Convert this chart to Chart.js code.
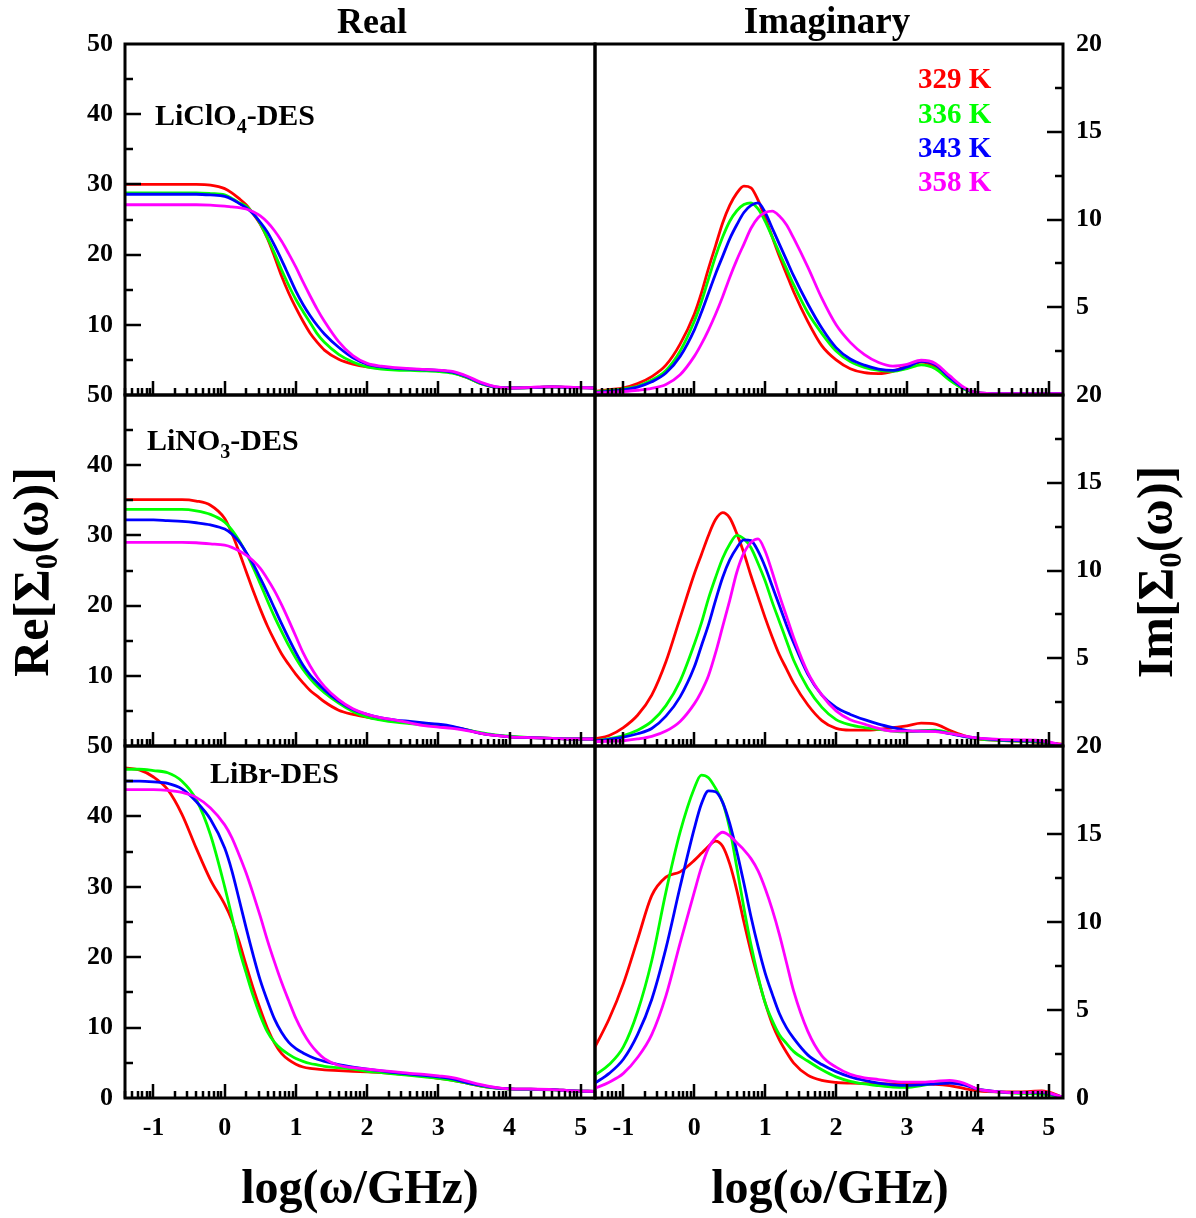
<!DOCTYPE html>
<html>
<head>
<meta charset="utf-8">
<title>Re and Im of Σ0(ω)</title>
<script src="https://cdn.jsdelivr.net/npm/chart.js@4.4.1/dist/chart.umd.min.js"></script>
<style>
  html, body { margin: 0; padding: 0; background: #fff; }
  #fig { position: relative; width: 1196px; height: 1218px; overflow: hidden; background: #fff; }
  #fig canvas { position: absolute; }
  #labels { position: absolute; left: 0; top: 0; pointer-events: none; }
  #labels text { font-family: "Liberation Serif", "Times New Roman", serif; font-weight: bold; fill: #000; }
</style>
</head>
<body>
<div id="fig">
  <canvas id="reLiClO4"></canvas>
  <canvas id="imLiClO4"></canvas>
  <canvas id="reLiNO3"></canvas>
  <canvas id="imLiNO3"></canvas>
  <canvas id="reLiBr"></canvas>
  <canvas id="imLiBr"></canvas>

  <svg id="labels" width="1196" height="1218" xmlns="http://www.w3.org/2000/svg">
    <text x="372" y="33" text-anchor="middle" font-size="36">Real</text>
    <text x="827" y="33" text-anchor="middle" font-size="37">Imaginary</text>

    <text transform="translate(48,572) rotate(-90)" text-anchor="middle" font-size="50">Re[Σ<tspan font-size="31" dy="9">0</tspan><tspan dy="-9">(ω)]</tspan></text>
    <text transform="translate(1172,572) rotate(-90)" text-anchor="middle" font-size="50">Im[Σ<tspan font-size="31" dy="9">0</tspan><tspan dy="-9">(ω)]</tspan></text>

    <text x="360" y="1203" text-anchor="middle" font-size="48">log(ω/GHz)</text>
    <text x="830" y="1203" text-anchor="middle" font-size="48">log(ω/GHz)</text>

    <text x="155" y="125" font-size="30">LiClO<tspan font-size="20" dy="8">4</tspan><tspan dy="-8">-DES</tspan></text>
    <text x="147" y="450" font-size="30">LiNO<tspan font-size="20" dy="8">3</tspan><tspan dy="-8">-DES</tspan></text>
    <text x="210" y="783" font-size="30">LiBr-DES</text>

    <text x="918" y="88" font-size="29" style="fill:#ff0000">329 K</text>
    <text x="918" y="123" font-size="29" style="fill:#00ff00">336 K</text>
    <text x="918" y="157" font-size="29" style="fill:#0000ff">343 K</text>
    <text x="918" y="191" font-size="29" style="fill:#ff00ff">358 K</text>
  </svg>
</div>

<script>
// log10(ω/GHz) sampling shared by every curve
const logW = [-1.4, -1.2, -1.0, -0.8, -0.6, -0.4, -0.2,
  0, 0.1, 0.2, 0.3, 0.4, 0.5, 0.6, 0.7, 0.8, 0.9, 1.0, 1.1, 1.2, 1.3, 1.4,
  1.6, 1.8, 2.0, 2.2, 2.4, 2.6, 2.8, 3.0, 3.2, 3.4, 3.6, 3.8, 4.0,
  4.3, 4.6, 4.9, 5.2];

const temps = ['329 K', '336 K', '343 K', '358 K'];

// one row per temperature, same order as temps
const reLiClO4 = [
  [30.0, 30.0, 30.0, 30.0, 30.0, 30.0, 29.9, 29.4, 28.8, 28.0, 27.1, 25.8, 24.3, 22.3, 19.7, 16.9, 14.5, 12.4, 10.5, 8.8, 7.5, 6.4, 5.1, 4.4, 4.0, 3.8, 3.7, 3.65, 3.6, 3.5, 3.2, 2.5, 1.6, 1.1, 1.0, 1.05, 1.15, 1.05, 1.0],
  [28.8, 28.8, 28.8, 28.8, 28.8, 28.8, 28.7, 28.5, 28.0, 27.4, 26.9, 25.9, 24.4, 22.4, 20.2, 17.8, 15.6, 13.6, 11.9, 10.3, 8.7, 7.5, 5.8, 4.7, 4.0, 3.7, 3.55, 3.5, 3.45, 3.35, 3.1, 2.5, 1.6, 1.1, 1.0, 1.05, 1.15, 1.05, 1.0],
  [28.6, 28.6, 28.6, 28.6, 28.6, 28.6, 28.5, 28.3, 27.9, 27.3, 26.7, 25.8, 24.6, 23.2, 21.3, 19.2, 17.0, 14.8, 12.9, 11.3, 9.9, 8.7, 6.8, 5.3, 4.4, 4.0, 3.8, 3.7, 3.6, 3.5, 3.25, 2.6, 1.7, 1.15, 1.0, 1.05, 1.15, 1.05, 1.0],
  [27.1, 27.1, 27.1, 27.1, 27.1, 27.1, 27.05, 26.9, 26.8, 26.7, 26.5, 26.1, 25.5, 24.6, 23.4, 21.9, 20.1, 18.2, 16.1, 14.1, 12.2, 10.5, 7.6, 5.6, 4.5, 4.1, 3.9, 3.75, 3.65, 3.55, 3.35, 2.7, 1.8, 1.2, 1.0, 1.1, 1.2, 1.1, 1.0]
];

const imLiClO4 = [
  [0.2, 0.3, 0.4, 0.65, 1.05, 1.7, 2.9, 4.6, 5.8, 7.2, 8.5, 9.8, 10.8, 11.5, 11.9, 11.8, 11.1, 10.1, 9.0, 7.9, 6.9, 5.9, 4.2, 2.8, 2.0, 1.5, 1.27, 1.22, 1.35, 1.65, 1.88, 1.6, 0.9, 0.35, 0.12, 0.08, 0.08, 0.08, 0.08],
  [0.18, 0.25, 0.35, 0.5, 0.85, 1.4, 2.5, 4.2, 5.3, 6.6, 7.9, 9.0, 9.9, 10.5, 10.85, 10.95, 10.6, 9.9, 9.0, 8.1, 7.2, 6.3, 4.7, 3.5, 2.5, 1.9, 1.57, 1.4, 1.35, 1.5, 1.72, 1.5, 0.85, 0.35, 0.1, 0.08, 0.08, 0.08, 0.08],
  [0.15, 0.2, 0.3, 0.45, 0.75, 1.25, 2.2, 3.7, 4.7, 5.8, 6.9, 7.9, 8.9, 9.7, 10.4, 10.8, 10.95, 10.4, 9.5, 8.6, 7.7, 6.8, 5.2, 3.8, 2.7, 2.05, 1.7, 1.48, 1.4, 1.6, 1.92, 1.72, 1.0, 0.4, 0.12, 0.08, 0.08, 0.08, 0.08],
  [0.12, 0.15, 0.2, 0.27, 0.38, 0.6, 1.15, 2.2, 2.9, 3.7, 4.6, 5.6, 6.7, 7.7, 8.6, 9.5, 10.1, 10.4, 10.48, 10.2, 9.7, 8.95, 7.3, 5.5, 4.0, 3.0, 2.3, 1.85, 1.65, 1.75, 1.98, 1.8, 1.1, 0.45, 0.12, 0.08, 0.08, 0.08, 0.08]
];

const reLiNO3 = [
  [35.1, 35.1, 35.1, 35.1, 35.1, 34.9, 34.3, 32.4, 30.3, 27.7, 24.9, 22.1, 19.5, 17.1, 15.0, 13.1, 11.6, 10.2, 9.0, 7.9, 7.1, 6.3, 5.1, 4.5, 4.1, 3.8, 3.5, 3.3, 3.1, 2.9, 2.7, 2.3, 1.8, 1.5, 1.3, 1.2, 1.1, 1.0, 1.0],
  [33.7, 33.7, 33.7, 33.7, 33.7, 33.5, 33.0, 31.9, 30.8, 29.3, 27.5, 25.4, 23.1, 20.7, 18.4, 16.3, 14.3, 12.5, 10.9, 9.6, 8.5, 7.6, 6.1, 4.9, 4.1, 3.7, 3.4, 3.2, 3.0, 2.8, 2.6, 2.3, 1.9, 1.6, 1.4, 1.2, 1.1, 1.0, 1.0],
  [32.2, 32.2, 32.2, 32.1, 32.0, 31.8, 31.5, 30.9, 30.2, 29.1, 27.6, 25.9, 23.9, 21.8, 19.6, 17.4, 15.3, 13.3, 11.5, 10.1, 9.0, 8.0, 6.4, 5.2, 4.5, 4.0, 3.7, 3.5, 3.3, 3.1, 2.8, 2.3, 1.8, 1.5, 1.3, 1.2, 1.1, 1.0, 1.0],
  [29.0, 29.0, 29.0, 29.0, 29.0, 28.95, 28.8, 28.6, 28.3, 27.8, 27.2, 26.4, 25.3, 23.8, 22.1, 20.1, 17.9, 15.6, 13.3, 11.4, 9.8, 8.5, 6.6, 5.3, 4.5, 4.0, 3.7, 3.3, 2.9, 2.7, 2.5, 2.2, 1.8, 1.5, 1.3, 1.2, 1.1, 1.0, 1.0]
];

const imLiNO3 = [
  [0.4, 0.6, 1.05, 1.75, 2.9, 4.8, 7.3, 9.8, 10.9, 12.0, 12.9, 13.3, 13.0, 12.1, 11.0, 9.7, 8.5, 7.3, 6.2, 5.2, 4.4, 3.6, 2.35, 1.45, 1.0, 0.9, 0.9, 0.95, 1.05, 1.15, 1.3, 1.25, 0.9, 0.6, 0.4, 0.32, 0.28, 0.2, 0.1],
  [0.3, 0.42, 0.6, 0.9, 1.4, 2.3, 3.7, 5.8, 7.0, 8.4, 9.6, 10.7, 11.5, 12.0, 11.8, 11.3, 10.4, 9.4, 8.2, 7.1, 6.0, 4.9, 3.3, 2.2, 1.5, 1.2, 1.05, 0.95, 0.85, 0.8, 0.88, 0.9, 0.75, 0.55, 0.4, 0.32, 0.28, 0.22, 0.05],
  [0.3, 0.38, 0.5, 0.7, 1.0, 1.7, 2.8, 4.5, 5.7, 6.9, 8.3, 9.6, 10.6, 11.3, 11.75, 11.7, 11.1, 10.2, 9.1, 8.0, 6.9, 5.9, 4.1, 2.9, 2.2, 1.8, 1.5, 1.25, 1.05, 0.88, 0.85, 0.85, 0.7, 0.55, 0.45, 0.35, 0.3, 0.25, 0.05],
  [0.25, 0.27, 0.3, 0.4, 0.55, 0.85, 1.4, 2.4, 3.1, 4.0, 5.3, 6.8, 8.3, 9.9, 11.0, 11.6, 11.8, 11.1, 9.9, 8.6, 7.4, 6.2, 4.2, 2.9, 2.0, 1.5, 1.25, 1.0, 0.85, 0.85, 0.85, 0.82, 0.72, 0.58, 0.45, 0.38, 0.35, 0.3, 0.05]
];

const reLiBr = [
  [46.9, 46.6, 45.6, 43.8, 40.3, 35.5, 31.0, 27.5, 25.3, 22.3, 18.9, 15.6, 12.6, 9.9, 7.8, 6.3, 5.4, 4.8, 4.4, 4.2, 4.1, 4.0, 3.9, 3.8, 3.7, 3.6, 3.45, 3.3, 3.1, 2.8, 2.5, 2.1, 1.7, 1.45, 1.3, 1.25, 1.2, 1.0, 0.95],
  [46.7, 46.7, 46.5, 46.2, 45.0, 42.4, 37.4, 30.0, 25.8, 21.3, 17.8, 14.5, 11.7, 9.4, 7.9, 6.9, 6.2, 5.6, 5.2, 4.9, 4.7, 4.5, 4.3, 4.1, 3.8, 3.6, 3.4, 3.2, 3.0, 2.8, 2.5, 2.1, 1.7, 1.4, 1.25, 1.2, 1.15, 1.0, 0.95],
  [45.0, 45.0, 44.9, 44.7, 43.9, 42.1, 39.6, 35.5, 32.3, 28.3, 24.2, 20.3, 16.7, 13.8, 11.2, 9.3, 7.9, 7.0, 6.4, 5.9, 5.5, 5.2, 4.75, 4.4, 4.1, 3.85, 3.6, 3.4, 3.2, 3.0, 2.7, 2.2, 1.8, 1.45, 1.3, 1.25, 1.2, 1.0, 0.95],
  [43.8, 43.8, 43.8, 43.7, 43.4, 42.7, 41.2, 38.8, 37.0, 34.6, 32.0, 29.0, 25.8, 22.4, 19.3, 16.4, 13.8, 11.3, 9.3, 7.7, 6.5, 5.6, 4.65, 4.3, 4.1, 3.9, 3.7, 3.5, 3.35, 3.15, 2.9, 2.4, 1.9, 1.5, 1.3, 1.25, 1.2, 1.0, 0.95]
];

const imLiBr = [
  [2.9, 4.5, 6.5, 9.0, 11.5, 12.55, 12.85, 13.5, 13.9, 14.3, 14.6, 14.3, 13.3, 11.8, 10.0, 8.3, 6.8, 5.4, 4.2, 3.3, 2.6, 2.0, 1.3, 1.0, 0.88, 0.84, 0.82, 0.8, 0.8, 0.8, 0.8, 0.78, 0.7, 0.55, 0.4, 0.35, 0.35, 0.4, 0.05],
  [1.3, 1.9, 2.9, 4.9, 7.8, 11.7, 15.1, 17.6, 18.35, 18.2, 17.6, 16.8, 15.3, 13.1, 10.8, 8.7, 6.9, 5.4, 4.4, 3.6, 3.1, 2.65, 2.1, 1.6, 1.2, 0.95, 0.8, 0.7, 0.62, 0.6, 0.7, 0.85, 0.95, 0.8, 0.5, 0.33, 0.27, 0.22, 0.05],
  [0.85, 1.4, 2.2, 3.6, 5.6, 8.5, 12.0, 15.3, 16.7, 17.45, 17.4, 16.8, 15.6, 14.0, 12.2, 10.3, 8.6, 7.1, 5.9, 4.8, 4.0, 3.4, 2.45, 1.9, 1.5, 1.2, 1.0, 0.85, 0.75, 0.72, 0.75, 0.8, 0.85, 0.75, 0.5, 0.35, 0.3, 0.3, 0.05],
  [0.55, 0.9, 1.4, 2.3, 3.6, 5.8, 8.8, 11.7, 13.1, 14.2, 14.8, 15.1, 14.9, 14.5, 14.1, 13.6, 12.9, 11.9, 10.7, 9.3, 7.7, 6.1, 3.8, 2.4, 1.75, 1.35, 1.15, 1.05, 0.95, 0.9, 0.9, 0.95, 1.0, 0.85, 0.5, 0.35, 0.3, 0.35, 0.05]
];

const xTicks = [-1, 0, 1, 2, 3, 4, 5];
const reTicks = [0, 10, 20, 30, 40, 50];
const imTicks = [0, 5, 10, 15, 20];

const lineColors = ['#ff0000', '#00ff00', '#0000ff', '#ff00ff'];

// plot boxes in page pixels
const rowEdges = [[44, 395], [395, 746], [746, 1098]];
const colEdges = [[125, 595], [595, 1063]];
const AXIS_W = 80;
const PAD = 32;        // must cover half a tick label plus its padding
const X_LABEL_H = 60;

const tickFont = { family: '"Liberation Serif", "Times New Roman", serif', size: 26, weight: 'bold' };

// frame plus inward tick marks (log minors on x, halves on y)
const frameTicks = {
  id: 'frameTicks',
  afterDatasetsDraw(chart, args, opts) {
    const { ctx, chartArea: a, scales: { x, y } } = chart;
    ctx.save();
    ctx.strokeStyle = '#000';
    ctx.lineWidth = 2.5;
    ctx.beginPath();
    for (let d = -2; d <= 5; d++) {
      for (let k = 1; k <= 9; k++) {
        const v = d + Math.log10(k);
        if (v <= x.min + 1e-6 || v >= x.max - 1e-6) continue;
        const px = Math.round(x.getPixelForValue(v));
        const len = k === 1 ? 14 : 7;
        ctx.moveTo(px, a.bottom);
        ctx.lineTo(px, a.bottom - len);
      }
    }
    const x0 = opts.side === 'left' ? a.left : a.right;
    const dir = opts.side === 'left' ? 1 : -1;
    for (let v = y.min + opts.minor; v < y.max - 1e-6; v += opts.minor) {
      const py = Math.round(y.getPixelForValue(v));
      const isMajor = Math.abs(v / opts.major - Math.round(v / opts.major)) < 1e-6;
      const len = isMajor ? 16 : 8;
      ctx.moveTo(x0, py);
      ctx.lineTo(x0 + dir * len, py);
    }
    ctx.stroke();
    ctx.lineWidth = 3;
    ctx.strokeRect(a.left, a.top, a.right - a.left, a.bottom - a.top);
    ctx.restore();
  }
};

const panels = [
  { id: 'reLiClO4', series: reLiClO4, row: 0, col: 0 },
  { id: 'imLiClO4', series: imLiClO4, row: 0, col: 1 },
  { id: 'reLiNO3', series: reLiNO3, row: 1, col: 0 },
  { id: 'imLiNO3', series: imLiNO3, row: 1, col: 1 },
  { id: 'reLiBr', series: reLiBr, row: 2, col: 0 },
  { id: 'imLiBr', series: imLiBr, row: 2, col: 1 }
];

panels.forEach(p => {
  const [plotT, plotB] = rowEdges[p.row];
  const [plotL, plotR] = colEdges[p.col];
  const isRe = p.col === 0;
  const bottomRow = p.row === 2;
  const xh = bottomRow ? X_LABEL_H : 0;

  const left = isRe ? plotL - AXIS_W : plotL - PAD;
  const width = AXIS_W + (plotR - plotL) + PAD;
  const top = plotT - PAD;
  const height = PAD + (plotB - plotT) + xh + PAD;

  const canvas = document.getElementById(p.id);
  canvas.width = width;
  canvas.height = height;
  canvas.style.left = left + 'px';
  canvas.style.top = top + 'px';
  canvas.style.width = width + 'px';
  canvas.style.height = height + 'px';

  const yTicks = isRe ? reTicks : imTicks;

  new Chart(canvas, {
    type: 'line',
    data: {
      datasets: p.series.map((ys, i) => ({
        label: temps[i],
        data: logW.map((w, j) => ({ x: w, y: ys[j] })),
        borderColor: lineColors[i],
        borderWidth: 2.8,
        pointRadius: 0,
        fill: false,
        cubicInterpolationMode: 'monotone',
        order: 3 - i
      }))
    },
    options: {
      responsive: false,
      animation: false,
      devicePixelRatio: 1,
      events: [],
      layout: {
        padding: isRe
          ? { left: 0, right: PAD, top: PAD, bottom: PAD }
          : { left: PAD, right: 0, top: PAD, bottom: PAD }
      },
      scales: {
        x: {
          type: 'linear',
          min: -1.4,
          max: 5.2,
          afterBuildTicks: s => { s.ticks = xTicks.map(v => ({ value: v })); },
          afterFit: s => { s.height = xh; },
          grid: { display: false, drawTicks: false },
          border: { display: false },
          ticks: { display: bottomRow, padding: 15, font: tickFont, color: '#000', maxRotation: 0, autoSkip: false }
        },
        y: {
          type: 'linear',
          position: isRe ? 'left' : 'right',
          min: 0,
          max: isRe ? 50 : 20,
          afterBuildTicks: s => { s.ticks = yTicks.map(v => ({ value: v })); },
          afterFit: s => { s.width = AXIS_W; },
          grid: { display: false, drawTicks: false },
          border: { display: false },
          ticks: {
            padding: isRe ? 12 : 13,
            font: tickFont,
            color: '#000',
            callback: v => (v === 0 && !bottomRow) ? '' : String(v)
          }
        }
      },
      plugins: {
        legend: { display: false },
        tooltip: { enabled: false },
        frameTicks: isRe ? { side: 'left', major: 10, minor: 5 } : { side: 'right', major: 5, minor: 2.5 }
      }
    },
    plugins: [frameTicks]
  });
});
</script>
</body>
</html>
